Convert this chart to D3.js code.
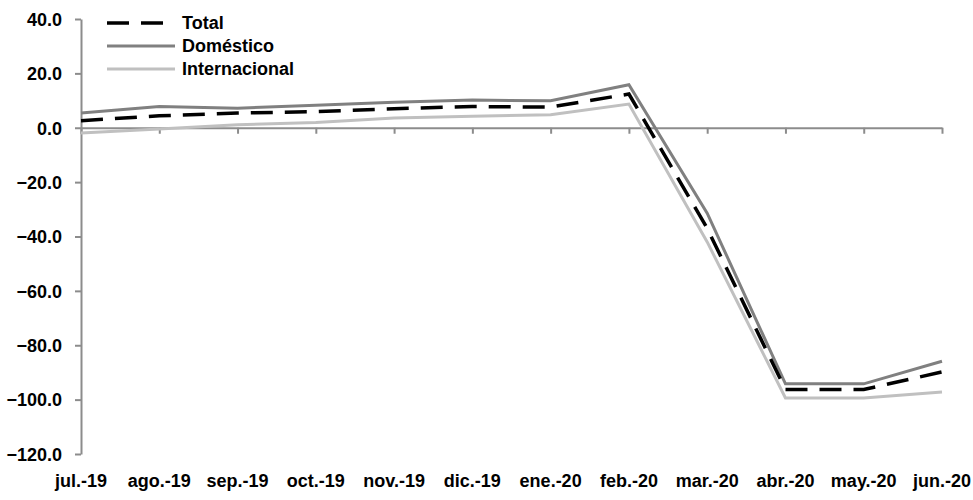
<!DOCTYPE html>
<html>
<head>
<meta charset="utf-8">
<script src="https://cdn.jsdelivr.net/npm/d3@7"></script>
<style>
  body { margin: 0; background: #fff; }
  text { font-family: "Liberation Sans Narrow", "Arial Narrow", "Liberation Sans", Arial, sans-serif; font-weight: bold; fill: #000; }
</style>
</head>
<body>
<div id="chart"></div>
<script>
var months = ["jul.-19", "ago.-19", "sep.-19", "oct.-19", "nov.-19", "dic.-19",
  "ene.-20", "feb.-20", "mar.-20", "abr.-20", "may.-20", "jun.-20"];
var total = [2.6, 4.4, 5.4, 5.9, 7.0, 7.8, 7.6, 12.4, -37.0, -96.3, -96.3, -89.8];
var domestico = [5.4, 7.8, 7.2, 8.3, 9.4, 10.2, 9.9, 15.8, -31.4, -94.2, -94.2, -85.9];
var internacional = [-1.9, -0.5, 1.1, 1.9, 3.6, 4.2, 4.8, 8.7, -42.0, -99.4, -99.4, -97.2];
var yTicks = [40, 20, 0, -20, -40, -60, -80, -100, -120];

var series = [
  { name: "Total", values: total, color: "#000000", width: 3.5, dash: "22,12" },
  { name: "Doméstico", values: domestico, color: "#808080", width: 3, dash: null },
  { name: "Internacional", values: internacional, color: "#c0c0c0", width: 3, dash: null }
];

var width = 973, height = 500;
var svg = d3.select("#chart").append("svg")
  .attr("width", width)
  .attr("height", height);

var x = d3.scalePoint().domain(months).range([81, 942]);
var y = d3.scaleLinear().domain([-120, 40]).range([454, 19]);

var axisColor = "#8c8c8c";

// y axis
var yAxis = svg.append("g")
  .attr("transform", "translate(81,0)")
  .call(d3.axisLeft(y).tickValues(yTicks).tickSize(6).tickSizeOuter(0).tickFormat(d3.format(".1f")));
yAxis.select(".domain").attr("stroke", axisColor).attr("stroke-width", 2);
yAxis.selectAll(".tick line").attr("stroke", axisColor).attr("stroke-width", 2);
yAxis.selectAll(".tick text")
  .attr("x", -19)
  .attr("dy", "0.35em")
  .style("font-size", "18px")
  .style("font-family", null)
  .attr("font-family", null);

// x axis at zero
var xAxis = svg.append("g")
  .attr("transform", "translate(0," + y(0) + ")")
  .call(d3.axisBottom(x).tickSize(6).tickSizeOuter(0).tickFormat(""));
xAxis.select(".domain").attr("stroke", axisColor).attr("stroke-width", 2);
xAxis.selectAll(".tick line").attr("stroke", axisColor).attr("stroke-width", 2);

// month labels at the bottom
svg.append("g").selectAll("text")
  .data(months)
  .enter()
  .append("text")
  .attr("x", d => x(d))
  .attr("y", 487)
  .attr("text-anchor", "middle")
  .style("font-size", "18px")
  .text(d => d);

var line = d3.line()
  .x((d, i) => x(months[i]))
  .y(d => y(d));

// draw lighter lines first, total on top
[series[2], series[1], series[0]].forEach(function(s) {
  svg.append("path")
    .datum(s.values)
    .attr("d", line)
    .attr("fill", "none")
    .attr("stroke", s.color)
    .attr("stroke-width", s.width)
    .attr("stroke-dasharray", s.dash)
    .attr("stroke-linejoin", "miter");
});

// legend
var legend = svg.append("g");
series.forEach(function(s, i) {
  var ly = 23 + i * 23;
  legend.append("line")
    .attr("x1", 107).attr("x2", 175)
    .attr("y1", ly).attr("y2", ly)
    .attr("stroke", s.color)
    .attr("stroke-width", s.width)
    .attr("stroke-dasharray", s.dash);
  legend.append("text")
    .attr("x", 182)
    .attr("y", ly)
    .attr("dy", "0.35em")
    .style("font-size", "18px")
    .text(s.name);
});
</script>
</body>
</html>
